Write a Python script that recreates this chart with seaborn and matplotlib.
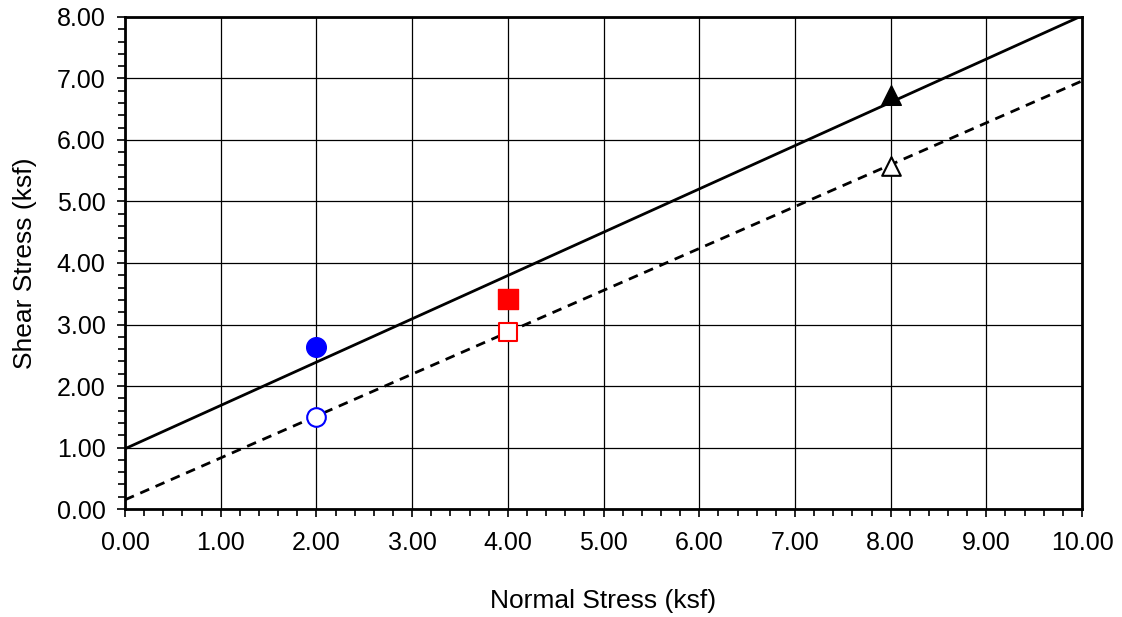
import numpy as np
import pandas as pd
import matplotlib
matplotlib.use("Agg")
import matplotlib.pyplot as plt
import seaborn as sns
from matplotlib.ticker import MultipleLocator, FormatStrFormatter

# ----------------------------------------
# Data
# ----------------------------------------
peak_x = [2.0, 4.0, 8.0]
peak_y = [2.64, 3.42, 6.73]
resid_x = [2.0, 4.0, 8.0]
resid_y = [1.50, 2.87, 5.58]
point_colors = ['#0000ff', '#ff0000', '#000000']
point_markers = ['o', 's', '^']

# envelope lines (end points at x = 0 and x = 10)
line_x = [0.0, 10.0]
peak_line_y = [0.98, 8.02]
resid_line_y = [0.15, 6.96]

sns.set_style("ticks")
plt.rcParams['font.family'] = ['Liberation Sans', 'DejaVu Sans']

fig = plt.figure(figsize=(11.22, 6.17), dpi=100)
ax = fig.add_axes([0.1114, 0.175, 0.853, 0.7975])

lines_df = pd.DataFrame({'x': line_x + line_x,
                         'y': peak_line_y + resid_line_y,
                         'env': ['peak'] * 2 + ['resid'] * 2})
sns.lineplot(data=lines_df[lines_df.env == 'peak'], x='x', y='y',
             color='black', lw=2, ax=ax, zorder=3)
sns.lineplot(data=lines_df[lines_df.env == 'resid'], x='x', y='y',
             color='black', lw=2, ls=(0, (3.5, 2.5)), ax=ax, zorder=3)

# peak points (filled) and residual points (open)
for i in range(3):
    ax.scatter(peak_x[i], peak_y[i], s=200, marker=point_markers[i],
               color=point_colors[i], zorder=4)
    ax.scatter(resid_x[i], resid_y[i], s=180, marker=point_markers[i],
               facecolors='white', edgecolors=point_colors[i],
               linewidths=1.5, zorder=4)

ax.set_xlim(0, 10)
ax.set_ylim(0, 8)
ax.xaxis.set_major_locator(MultipleLocator(1))
ax.xaxis.set_minor_locator(MultipleLocator(0.2))
ax.yaxis.set_major_locator(MultipleLocator(1))
ax.yaxis.set_minor_locator(MultipleLocator(0.2))
ax.xaxis.set_major_formatter(FormatStrFormatter('%.2f'))
ax.yaxis.set_major_formatter(FormatStrFormatter('%.2f'))

ax.grid(True, which='major', color='black', lw=0.9)
for s in ax.spines.values():
    s.set_linewidth(2)
    s.set_color('black')

ax.tick_params(which='major', direction='out', length=6, width=1.2,
               labelsize=18, colors='black', labelcolor='black')
ax.tick_params(axis='x', which='major', pad=10)
ax.tick_params(axis='y', which='major', pad=8)
ax.tick_params(which='minor', direction='out', length=5, width=1.2,
               colors='black')

ax.set_xlabel("Normal Stress (ksf)", fontsize=19, labelpad=24, color='black')
ax.set_ylabel("Shear Stress (ksf)", fontsize=19, labelpad=14, color='black')

fig.savefig("out.png", dpi=100)
